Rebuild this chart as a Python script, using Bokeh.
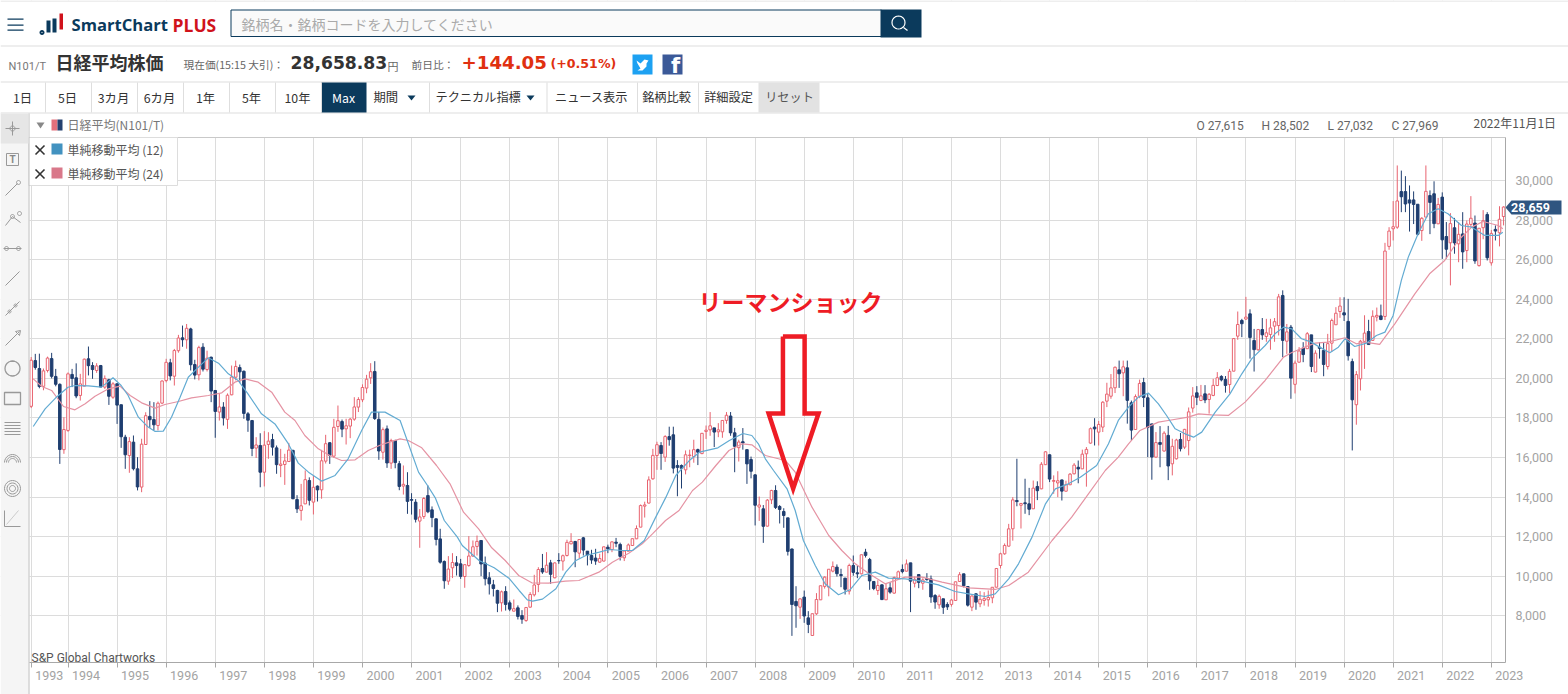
from math import cos, sin, pi
from bokeh.plotting import figure
from bokeh.models import (BoxAnnotation, ColumnDataSource, FixedTicker, Grid, Label, LinearAxis,
                          NumeralTickFormatter, PolyAnnotation, Range1d)
from bokeh.embed import file_html
from bokeh.resources import INLINE

# monthly bars, Apr 1993 - Apr 2023. x is months since Jan 1994
opens = [
    18590,20900,20500,19600,20400,21000,20100,19700,16400,
    17370,20200,20030,19140,19610,20990,20650,20400,20650,19560,19930,19050,
    19730,18670,17030,16100,16780,15430,14510,16660,18080,17920,17620,18750,
    19890,20790,20110,21400,22050,21950,22500,20700,20180,21580,20450,21070,
    19390,18300,18550,17930,19170,20060,20550,20360,18210,17870,16480,16610,
    15260,16660,16910,16490,15600,15650,15800,16360,13880,13330,13660,14840,
    13750,14560,14370,15820,16750,16070,17570,17820,17450,17590,17940,18550,
    18920,19510,20030,20350,17930,16270,17450,15720,16860,15690,14560,14590,
    13880,13746,12790,13020,14080,13360,12905,11890,10750,9755,10430,10680,
    10630,9990,10547,11020,11510,11810,10665,9924,9570,9284,8660,9233,
    8660,8240,8408,8020,7768,8442,9065,9587,10395,10210,10680,9924,
    10800,10770,11052,11640,11760,11170,11945,11270,11050,10920,10715,10770,
    11470,11355,11726,11610,10934,11270,11557,11894,12484,13545,13700,14925,
    16105,16610,16020,17060,17150,15600,15600,15380,16100,16050,16400,16200,
    17320,17400,17500,17300,17300,17880,18100,17250,16500,16800,16400,15900,
    15127,13500,13410,12535,13865,14336,13527,13275,12955,11380,8728,8440,
    8950,7900,7010,8105,8812,9490,9453,10260,10463,10090,9907,9250,
    10547,10177,10125,11220,10850,9740,9283,9570,8812,9420,9150,9907,
    10345,10260,10680,9650,10090,9650,9890,9870,9030,8560,8864,8577,
    8580,8780,9740,10125,9485,8440,9116,8610,8780,8812,8914,9450,
    10547,11137,11525,12400,13830,13590,13713,13663,13410,14540,14420,15640,
    16140,14800,14720,14870,14300,14625,15180,15510,15430,16190,16730,17540,
    17285,17540,18850,19100,19525,20434,20280,20535,18766,17420,19100,19790,
    19020,17700,16022,16760,16330,17120,15685,15938,16915,16527,16860,18500,
    19272,18885,19220,18935,19140,19640,20100,19945,19690,20366,22135,22926,
    23000,23263,21915,21445,22470,22118,22220,22640,22670,24190,21880,22590,
    19700,20820,21530,21500,22200,20320,21580,21410,20600,21780,22710,23380,
    23315,22880,20850,18670,19980,21870,22370,21920,23100,23160,23130,26670,
    27560,27640,29440,29440,29020,29020,28800,27470,28150,29240,29330,27810,
    29160,27170,26850,27610,26800,27300,26460,27780,27850,25700,27615,28280,
    25840,27530,27360,28180,
]
highs = [
    21080,21240,21250,20500,21100,21290,20480,19750,18040,
    20300,20480,20760,20230,21000,21610,20820,20770,20680,20150,19980,19810,
    19730,18670,17150,17030,17115,16020,16950,18290,18850,18800,18830,19900,
    20990,20990,21490,22200,22670,22750,22560,20940,21650,21780,21400,21100,
    19390,19220,18800,19240,20650,20900,20700,20400,18300,17900,17030,17230,
    17335,17280,17200,16610,16440,16190,16740,16400,14100,14670,15350,15000,
    15095,14590,16390,17150,16770,17957,18630,17920,17960,18000,19050,19050,
    19700,20180,20770,20870,18300,17520,17620,16950,16900,15830,15600,15260,
    14200,13900,13400,14000,14590,13530,12920,12400,10800,11020,11170,11020,
    10880,10600,12030,11810,12060,11820,11000,10210,9820,9320,9280,9500,
    8780,8830,8530,8290,8450,9200,10075,10460,11130,11220,10830,10700,
    11170,11100,11850,12180,11790,11880,11990,11270,11340,11390,11140,11500,
    11600,11760,11940,11700,11310,11660,11910,12570,13630,13770,15050,16440,
    16800,16780,17130,17560,17560,15870,15650,16360,16400,16900,16450,17240,
    17620,18300,17500,17740,17880,18300,18300,17500,16900,17490,16400,16050,
    15150,14030,13600,13900,14370,14600,13600,13440,12955,11400,9500,8880,
    9280,8240,8110,9150,9530,10000,10330,10750,10600,10380,9920,10640,
    11050,10547,11090,11390,10930,9750,9800,9590,9620,9700,9990,10290,
    10600,10850,10680,9990,10090,9900,10160,10040,9100,9080,8870,8690,
    8860,9730,10210,10130,9490,9030,9140,9250,9200,9285,9450,10420,
    11190,11660,12650,14000,15940,13710,14930,14470,14840,14800,15770,16320,
    16164,15100,15310,14880,14830,15220,15720,15850,16400,16530,17520,17990,
    17850,18850,19780,20220,20600,20900,20900,20900,18880,19190,19940,20030,
    19250,17700,17290,17590,17330,17600,16950,16950,17240,17450,18530,19560,
    19610,19670,19660,19260,19980,20318,20160,20120,20480,22040,23380,23010,
    24120,23490,22500,22500,23050,23010,23010,23050,24270,24450,22750,22700,
    20900,21580,21830,22340,22200,21420,21830,21820,22250,23020,23600,24100,
    24100,24020,21000,20370,21950,23190,22960,23440,23580,23730,26850,27640,
    28960,30760,30500,30220,29750,29450,28800,28150,30760,29500,29960,29120,
    29400,27900,28350,28110,27900,28400,27980,29210,28230,27600,28502,28400,
    27500,27730,28700,28700,
]
lows = [
    18500,20440,19500,19400,20300,20000,19600,15680,16190,
    17300,19560,19000,18880,19600,20150,19980,20280,19560,19470,18660,18970,
    17700,16490,15430,15230,15350,14340,14250,16650,17500,17370,17370,18700,
    19800,19900,19640,21300,21600,21500,20400,19950,19900,20350,20350,18800,
    17000,17870,17620,17450,19150,19900,19760,17960,17300,16070,15980,14500,
    14540,15940,16100,15180,15010,14620,15780,13900,13200,12820,13650,13580,
    13125,13780,13920,15700,15680,15980,17300,17030,16660,16980,17860,18300,
    18800,19250,19720,17900,15885,15900,15480,15430,15460,14350,14130,13157,
    13120,12720,11440,12900,13190,12480,11560,10640,9370,9570,9910,10040,
    9870,9420,10480,10990,11050,10010,9540,9080,8980,8190,8220,8270,
    8240,8230,7820,7600,7700,8420,8980,9200,10125,10200,9620,9900,
    10630,10290,11000,11620,10460,10900,11050,10550,10630,10580,10680,10750,
    11170,11220,11470,10800,10770,11260,11530,11880,12480,12970,13680,14880,
    15380,15380,15780,16600,15200,14045,14437,15150,15510,15740,15620,16170,
    16940,17100,16530,17030,17000,17710,17100,15260,15800,16400,14670,14950,
    12570,12800,11690,12520,13650,13400,12670,12450,11050,6990,7400,7850,
    7650,7130,7010,8050,8800,9380,8990,10200,9990,9450,9080,9080,
    10030,9907,10100,10950,9318,9300,9060,8800,8800,9120,9120,9900,
    10150,10240,8190,9440,9400,9320,9780,8660,8360,8360,8100,8300,
    8470,8775,9720,9440,8470,8240,8310,8440,8520,8470,8640,9440,
    10400,11090,11500,11800,13540,12415,13160,13090,13400,13850,14400,15630,
    14760,14170,14000,13830,14290,14610,15150,14700,15420,14530,16700,16610,
    16610,17290,18550,18970,19260,19520,19100,17714,16860,17400,19000,18550,
    16020,14880,16000,15510,16300,14860,15100,15900,16310,16430,16110,18270,
    18650,18850,18750,18220,19100,19610,19850,19280,19240,20360,21950,22085,
    22950,21000,20347,21400,21950,21850,21450,21850,22170,21070,21240,18970,
    19240,20800,20820,21490,20320,20300,21000,20110,20450,21350,22700,23060,
    22900,20900,16360,17660,19390,20480,21700,21900,22880,22940,22950,26500,
    26970,27560,28400,28400,27420,27800,27220,26950,28150,27290,27590,27800,
    26040,26050,24700,26300,25870,25540,25870,27640,25790,25650,27032,25960,
    25700,26970,26670,27730,
]
closes = [
    20919,20552,19590,20380,21027,20105,19703,16408,17417,
    20229,19997,19112,19725,20974,20644,20448,20629,19564,19990,19098,19723,
    18650,17053,16140,16807,15437,14517,16678,18117,17913,17655,18744,19868,
    20813,20125,21407,22041,21956,22531,20693,20167,21556,20467,21020,19361,
    18330,18557,18003,19151,20069,20605,20331,18229,17888,16459,16636,15259,
    16628,16832,16527,15641,15671,15830,16379,13919,13406,13564,14884,13842,
    14499,14368,15837,16702,16112,17530,17862,17437,17606,17942,18558,18934,
    19540,19960,20337,17973,16332,17411,15727,16861,15747,14539,14649,13786,
    13843,12883,12999,13934,13262,12969,11860,10714,9775,10366,10697,10543,
    9997,10588,11025,11493,11764,10622,9877,9619,9383,8640,9216,8579,
    8340,8363,7973,7831,8425,9083,9563,10344,10219,10560,10101,10677,
    10784,11042,11715,11762,11236,11859,11326,11082,10824,10771,10899,11489,
    11388,11740,11669,11009,11277,11584,11900,12414,13574,13607,14872,16111,
    16650,16205,17060,16906,15467,15505,15457,16141,16128,16399,16274,17226,
    17383,17604,17288,17400,17876,18138,17249,16569,16786,16738,15681,15308,
    13592,13603,12526,13850,14338,13481,13377,13073,11260,8577,8512,8860,
    7994,7568,8110,8828,9523,9958,10357,10492,10133,10034,9345,10546,
    10198,10126,11090,11057,9768,9382,9537,8824,9369,9202,9937,10228,
    10237,10624,9755,9849,9693,9816,9833,8955,8700,8988,8434,8455,
    8802,9723,10083,9520,8542,9006,8695,8839,8870,8928,9446,10395,
    11138,11559,12397,13860,13774,13677,13668,13388,14455,14327,15661,16291,
    14914,14841,14827,14304,14632,15162,15620,15424,16173,16413,17459,17450,
    17674,18797,19206,19520,20563,20235,20585,18890,17388,19083,19747,19033,
    17518,16026,16758,16666,17234,15575,16569,16887,16449,17425,18308,19114,
    19041,19118,18909,19196,19650,20033,19925,19646,20356,22011,22724,22764,
    23098,22068,21454,22467,22201,22304,22553,22865,24120,21920,22351,20014,
    20773,21385,21205,22258,20601,21275,21521,20704,21755,22927,23293,23656,
    23205,21142,18917,20193,21877,22288,21710,23139,23185,22977,26433,27444,
    27663,28966,29178,28812,28860,28791,27283,28089,29452,28892,27821,28791,
    27001,26526,27821,26847,27279,26393,27801,28091,25937,27587,27969,26094,
    27327,27445,28041,28659,
]

# moving averages: month position, price
sma12_x = [-8.5,-5.6,-3,0,1.7,5,8.2,11,13,14.7,17.2,19.6,21.3,23.3,25.3,27.4,29.4,31.9,34.3,36.8,39.2,41.6,44,47.3,50.6,53.9,56.3,58.8,62,65.3,68.5,71.8,74.2,77.5,81.2,
           85.7,87.9,89.8,92,95.2,96.4,100.5,104.2,107.8,110.3,112.3,113.6,116,119.3,121.7,124.2,126.6,129.9,132.3,135.6,138,140.9,143.7,146.2,148.6,151.9,154.4,158.9,161.7,165,
           167.2,168.8,170.5,172.5,175.8,177.8,179.8,182.7,185.1,188.4,191.2,194.1,197.4,200.6,204.7,208.8,212.8,216.9,220.2,224.2,226.7,230,232.4,235.7,239,241.4,244.6,247.5,
           251.5,254.4,256.8,259.3,261.7,264.2,266.6,268.6,270.7,273.1,275.2,277.2,280.5,284.1,287,289.4,292.7,295.1,297.2,299.2,301.6,304,306,308.5,310.6,312.2,314.6,317.5,319.9,322,
           324,326,327.7,330.1,332.6,335,337.4,340.7,343.2,346.4,349.7,350.8]
sma12_v = [17570,18460,19020,19555,19640,19625,19560,20030,19640,19135,18040,17540,17320,17335,18040,19050,20060,20568,21040,20770,20230,19895,19220,18210,17700,16690,15720,15263,14810,15095,15937,17368,18295,18295,17870,
           15262,14590,13965,12820,11980,11557,10800,10430,9907,9284,8812,8745,8846,9370,10210,10800,11052,11220,11355,11305,11305,11810,12990,14000,15094,15850,16272,16490,16862,17216,
           17115,16694,15936,15346,14420,13326,11810,10547,9621,9065,9318,10042,10210,9907,9874,9756,9570,9234,9116,8981,9116,9874,10631,11980,13663,14420,14673,15010,
           15600,16695,17874,18548,19053,19255,18716,18127,17453,17200,17032,17285,18295,19220,20232,20990,21663,22253,22590,22505,22002,21833,21580,21294,21580,22002,21614,21783,22170,22338,
           23180,24950,26128,27306,28317,28569,28317,27727,27643,27222,27222,27390]
sma24_x = [-8.5,-6.4,-4,-1.1,1.7,4.2,6.6,9.9,12.7,15.2,18,21.3,23.7,27,30.2,34.3,37.6,40.8,43.3,46.5,49.8,53,55.5,57.9,61.2,64,66.9,70.2,73.4,76.7,81.2,
           83.2,86.5,90.1,93.4,96.7,100.4,103.6,106.9,110.2,113.4,117.5,121.6,124.9,129.8,133.1,137.1,140.4,142.9,146.1,149.4,152.7,155.1,158.4,161.6,164.9,
           167.2,170.5,175.4,177.8,181.9,186,189.2,192.5,195.7,199.8,204.7,208.8,213.7,220.2,226.7,230,234.8,240.6,245.4,249.5,253.6,256.8,259.3,262.1,266.6,
           269,273.9,276.4,279.6,283.7,287.8,292.7,297.2,299.1,302.4,304.9,308.1,312.2,315,317.1,320.7,324.4,329.3,332.9,336.6,339.9,343.2,346,349.7,350.8]
sma24_v = [19978,19591,19390,18580,18412,18715,19103,19473,19608,19136,18766,18496,18682,18833,19018,19136,19271,19810,19978,19810,19305,18295,17873,17116,16442,16105,15853,15886,16358,16661,16947,
           16862,16492,15599,14673,13241,12400,11440,10800,10042,9671,9655,9755,9789,10210,10715,11170,11642,12147,12820,13325,14336,14757,15599,16357,16694,
           16643,16104,15852,15262,13494,12063,11305,10631,10160,9621,9958,9958,9705,9419,9335,9537,10210,11810,12989,14168,15346,16020,16695,17369,17790,
           17874,18043,18211,18160,18127,18800,19895,21074,21294,21580,21783,21833,22052,21749,21833,21715,22759,24275,25285,25959,26969,27643,27929,27727,27559]

years = list(range(1993, 2024))
price_ticks = list(range(8000, 32000, 2000))
periods = ["1日", "5日", "3カ月", "6カ月", "1年", "5年", "10年", "Max"]
arrow_x = [174.8, 174.8, 171.3, 177.3, 183.5, 180.1, 180.1, 174.8]
arrow_y = [22117, 18226, 18226, 14437, 18226, 18226, 22117, 22117]

NAVY = "#0b3a5c"
CANDLE_NAVY = "#1f3e70"
CANDLE_RED = "#e8636f"
JP = "Noto Sans CJK JP"
RB = "Roboto"

first = -9
bar_x = [first + i for i in range(len(closes))]
year_pos = [first] + [(y - 1994) * 12 for y in years[1:]]

source = ColumnDataSource(dict(
    x=bar_x, o=opens, h=highs, l=lows, c=closes,
    top=[max(a, b) for a, b in zip(opens, closes)],
    bottom=[min(a, b) for a, b in zip(opens, closes)],
    color=[CANDLE_RED if c >= o else CANDLE_NAVY for o, c in zip(opens, closes)],
    fill=["#ffffff" if c >= o else CANDLE_NAVY for o, c in zip(opens, closes)],
))

# the plot frame fills the page: the default ranges are page pixels for the site
# furniture (annotations are clipped to the frame), "bars"/"price" hold the chart
p = figure(width=1568, height=694, output_backend="svg", toolbar_location=None,
           x_range=Range1d(0, 1568), y_range=Range1d(694, 0),
           x_axis_type=None, y_axis_type=None, min_border=0)
p.extra_x_ranges["bars"] = Range1d(-16.504, 366.87)
p.extra_y_ranges["price"] = Range1d(4028, 39095)
p.outline_line_color = None
p.background_fill_color = "#ffffff"
p.grid.visible = False

x_grid = Grid(dimension=0, ticker=FixedTicker(ticks=year_pos), x_range_name="bars",
              grid_line_color="#dcdcdc")
y_grid = Grid(dimension=1, ticker=FixedTicker(ticks=price_ticks), y_range_name="price",
              grid_line_color="#dcdcdc")
p.add_layout(x_grid)
p.add_layout(y_grid)

# the year label sits right of its grid line, so major ticks only carry the text
label_pos = [x + 4.4 for x in year_pos]
xaxis = LinearAxis(x_range_name="bars", fixed_location=662, level="overlay",
                   bounds=(-9.41, 351.47),
                   ticker=FixedTicker(ticks=label_pos, minor_ticks=year_pos),
                   major_label_overrides={x: str(y) for x, y in zip(label_pos, years)},
                   major_tick_line_color=None, minor_tick_in=0, minor_tick_out=5,
                   minor_tick_line_color="#a8a8a8", axis_line_color="#a8a8a8",
                   major_label_standoff=2, major_label_text_font=RB,
                   major_label_text_font_size="12.5px", major_label_text_color="#a3a3a3")
yaxis = LinearAxis(y_range_name="price", fixed_location=1505, level="overlay",
                   bounds=(5644, 32173),
                   ticker=FixedTicker(ticks=price_ticks),
                   formatter=NumeralTickFormatter(format="0,0"),
                   major_tick_line_color=None, minor_tick_line_color=None,
                   axis_line_color="#a8a8a8", major_label_standoff=4, major_label_text_font=RB,
                   major_label_text_font_size="12.5px", major_label_text_color="#a3a3a3")
p.add_layout(xaxis, "below")
p.add_layout(yaxis, "right")

p.segment("x", "h", "x", "l", source=source, color="color", line_width=1,
          x_range_name="bars", y_range_name="price")
p.vbar(x="x", top="top", bottom="bottom", width=0.62, source=source,
       fill_color="fill", line_color="color", line_width=1,
       x_range_name="bars", y_range_name="price")
p.line(sma24_x, sma24_v, color="#e593a3", line_width=1.2, x_range_name="bars", y_range_name="price")
p.line(sma12_x, sma12_v, color="#62abd2", line_width=1.2, x_range_name="bars", y_range_name="price")
p.line(arrow_x, arrow_y, color="#ee1c25", line_width=4.5, line_join="miter",
       x_range_name="bars", y_range_name="price")


def box(l, t, r, b, fill, line=None):
    p.add_layout(BoxAnnotation(left=l, right=r, top=t, bottom=b,
                               left_units="canvas", right_units="canvas",
                               top_units="canvas", bottom_units="canvas",
                               fill_color=fill, fill_alpha=1,
                               line_color=line, line_alpha=1 if line else 0))


def poly(xs, ys, fill=None, line=None, w=1):
    p.add_layout(PolyAnnotation(xs=xs, ys=ys, xs_units="canvas", ys_units="canvas",
                                fill_color=fill, fill_alpha=1 if fill else 0,
                                line_color=line, line_alpha=1 if line else 0, line_width=w))


def ring(cx, cy, r, line="#999999", w=1):
    xs = [cx + r * cos(2 * pi * k / 24) for k in range(24)]
    ys = [cy + r * sin(2 * pi * k / 24) for k in range(24)]
    poly(xs, ys, line=line, w=w)


def seg(x1, y1, x2, y2, line="#999999", w=1):
    poly([x1, x2], [y1, y2], line=line, w=w)


def txt(s, x, y, size, color="#444444", bold=False, font=JP, align="left"):
    p.add_layout(Label(x=x, y=y, x_units="canvas", y_units="canvas", text=s,
                       text_font=font, text_font_size=f"{size}px", text_color=color,
                       text_font_style="bold" if bold else "normal",
                       text_baseline="middle", text_align=align))


# white surround, hides the grid lines outside the chart
box(0, 0, 1568, 137, "#ffffff")
box(0, 662, 1568, 694, "#ffffff")
box(0, 137, 29, 662, "#ffffff")
box(1505, 137, 1568, 662, "#ffffff")
box(29, 136.5, 1505, 137.5, "#c9c9c9")

# header lines
for y in (0, 45, 81, 112):
    box(0, y, 1568, y + 1, "#dedede")

# menu + logo
for y in (18, 24, 29):
    box(7, y, 23, y + 1.3, NAVY)
ring(41.5, 32, 1.5, line=NAVY, w=2)
box(46, 20, 50, 32, NAVY)
box(52, 18, 56, 32, NAVY)
box(59, 13, 62.5, 29, "#d0121b")
txt("SmartChart", 71, 24, 16.6, NAVY, True, "Open Sans")
txt("PLUS", 172, 24, 17.5, "#d0121b", True, "Open Sans")

# search box
box(230.5, 9.5, 881, 36, "#fafafa", NAVY)
box(880, 9, 921, 37, NAVY)
ring(898, 22, 6.5, line="#ffffff", w=1.2)
seg(903, 27, 907, 30, line="#ffffff", w=1.2)
txt("銘柄名・銘柄コードを入力してください", 241, 23.5, 14, "#aaaaaa")

# quote line
txt("N101/T", 8, 66, 11, "#777777", font=RB)
txt("日経平均株価", 55, 61, 18, "#333333", True)
txt("現在価(15:15 大引)：", 183, 64, 10.7, "#666666")
txt("28,658.83", 290, 62, 17.2, "#333333", True, "DejaVu Sans")
txt("円", 387, 65, 11, "#666666")
txt("前日比：", 411, 64, 10.7, "#666666")
txt("+144.05", 461, 62, 18.2, "#e03010", True, "DejaVu Sans")
txt("(+0.51%)", 550, 63, 12.6, "#e03010", True, "DejaVu Sans")
box(632, 54, 652, 74, "#1da1f2")
poly([636, 640, 644, 648, 646, 646, 642, 637, 640, 637],
     [60, 63, 59, 60, 63, 66, 70, 70, 68, 63], fill="#ffffff")
box(662, 54, 682, 74, "#3b5998")
txt("f", 675, 65, 21, "#ffffff", True, "DejaVu Sans", "center")

# period tabs
box(321, 82, 366, 112, NAVY)
box(758, 82, 819, 112, "#e2e2e2")
for x in (44.5, 90.5, 136.5, 182.5, 228.5, 274.5, 320.5, 428.5, 546, 636.5, 697.5):
    box(x, 82, x + 1, 112, "#dedede")
for s, x in zip(periods, (22, 67, 113, 159, 205, 251, 297, 343)):
    txt(s, x, 97, 12.3, "#ffffff" if s == "Max" else "#333333", align="center")
txt("期間", 373, 96, 12.3, "#333333")
poly([407, 415, 411], [95, 95, 100], fill=NAVY)
txt("テクニカル指標", 435, 96, 12.2, "#333333")
poly([526, 534, 530], [95, 95, 100], fill=NAVY)
txt("ニュース表示", 591, 96, 12.2, "#333333", align="center")
txt("銘柄比較", 666, 96, 12.2, "#333333", align="center")
txt("詳細設定", 728, 96, 12.2, "#333333", align="center")
txt("リセット", 789, 96, 12.2, "#555555", align="center")

# chart header + read out
poly([36, 44, 40], [122, 122, 128], fill="#888888")
box(51, 119, 57, 130, "#e3707c")
box(57, 119, 62, 130, "#24406f")
txt("日経平均(N101/T)", 67, 124, 12, "#777777")
for s, x in zip(("O 27,615", "H 28,502", "L 27,032", "C 27,969"), (1196, 1261, 1327, 1391)):
    txt(s, x, 125, 12, "#666666", font=RB)
txt("2022年11月1日", 1473, 122, 12, "#555555")

# indicator legend
box(28, 137, 177, 185, "#ffffff", "#dddddd")
for y, color, s in ((149, "#4292c0", "単純移動平均 (12)"), (173, "#d9788a", "単純移動平均 (24)")):
    seg(35, y - 4, 44, y + 5, line="#333333", w=1.6)
    seg(44, y - 4, 35, y + 5, line="#333333", w=1.6)
    box(51, y - 6, 62, y + 5, color)
    txt(s, 67, y, 12, "#555555")

# last price tag
poly([1505, 1511, 1561, 1561, 1511], [207, 200, 200, 214, 214], fill="#2f5580")
txt("28,659", 1530, 207, 12.5, "#ffffff", True, RB, "center")

txt("S&P Global Chartworks", 31, 657, 12, "#555555", font=RB)
txt("リーマンショック", 698, 300, 23, "#ee1c25", True)

# drawing tools on the left
box(0, 113, 28, 694, "#f5f5f5")
box(28, 113, 29, 694, "#bdbdbd")
box(0, 113, 28, 143, "#e6e6e6")
seg(5, 128, 19, 128)
seg(12, 121, 12, 135)
ring(12, 128, 2.5)
poly([6, 18, 18, 6], [153, 153, 165, 165], line="#999999")
txt("T", 12, 159, 10, "#888888", True, RB, "center")
seg(5, 195, 17, 183)
ring(18, 182, 2)
seg(5, 225, 12, 216)
seg(12, 216, 20, 222)
ring(12, 216, 2)
ring(19, 213, 2)
seg(3, 248, 21, 248)
ring(6, 248, 2)
ring(18, 248, 2)
seg(5, 285, 19, 271)
seg(5, 315, 19, 301)
ring(9, 311, 1.5)
ring(15, 305, 1.5)
seg(5, 345, 19, 331)
poly([15, 20, 19], [331, 330, 335], line="#999999")
ring(12, 368, 7.5, w=1.3)
poly([4, 20, 20, 4], [392, 392, 404, 404], line="#999999", w=1.3)
for y in (422, 425, 428, 431, 434):
    seg(4, y, 20, y)
for r in (8, 6, 4):
    xs = [12 + r * cos(pi * k / 12) for k in range(13)]
    ys = [462 - r * sin(pi * k / 12) for k in range(13)]
    for k in range(12):
        seg(xs[k], ys[k], xs[k + 1], ys[k + 1])
for r in (8, 5.5, 3):
    ring(12, 488, r)
seg(4, 510, 4, 526)
seg(4, 526, 20, 526)
seg(6, 524, 18, 510, line="#cccccc")

open("out.html", "w").write(file_html(p, INLINE))
